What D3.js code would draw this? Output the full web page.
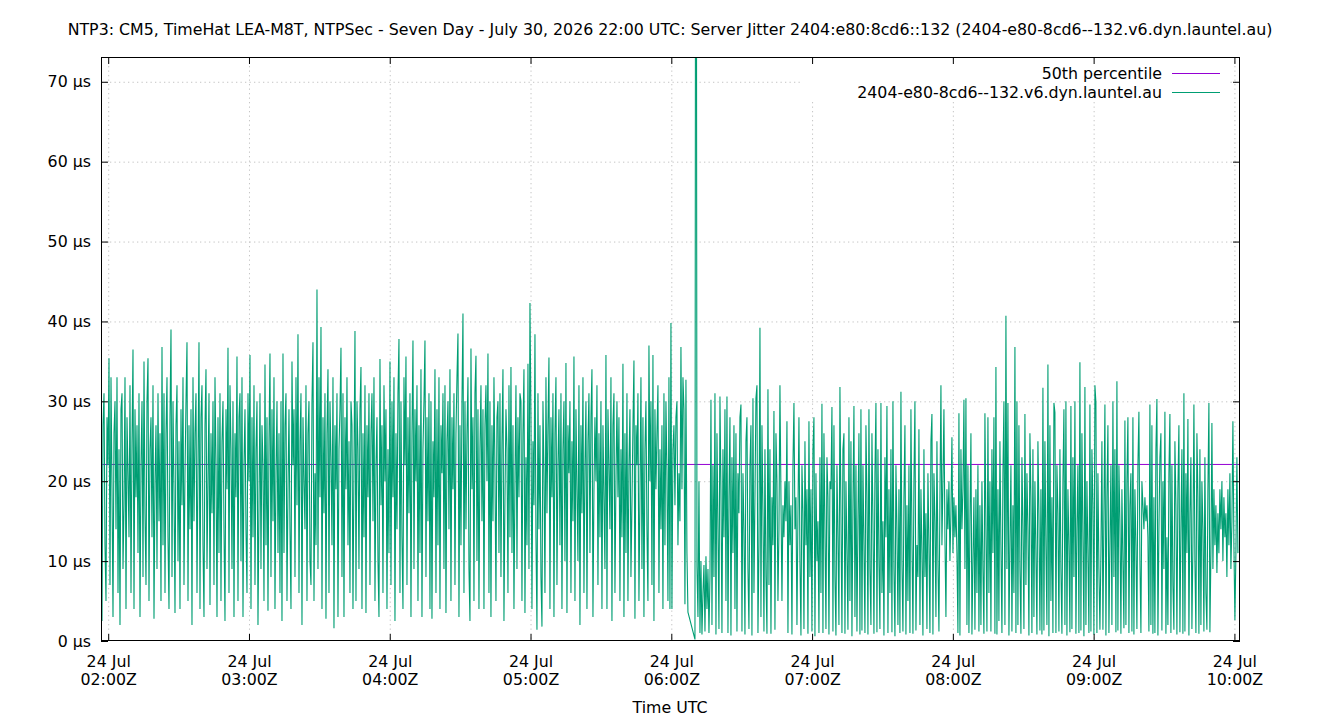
<!doctype html>
<html lang="en">
<head>
<meta charset="utf-8">
<title>NTP3 Server Jitter</title>
<style>
  body { margin: 0; background: #fff; }
  svg { display: block; font-family: "DejaVu Sans", sans-serif; }
</style>
</head>
<body>
<script src="https://cdn.jsdelivr.net/npm/d3@7/dist/d3.min.js"></script>
<svg width="1340" height="720"></svg>
<script>
// chart texts
const titleText = "NTP3: CM5, TimeHat LEA-M8T, NTPSec - Seven Day - July 30, 2026 22:00 UTC: Server Jitter 2404:e80:8cd6::132 (2404-e80-8cd6--132.v6.dyn.launtel.au)";
const seriesNames = ["50th percentile", "2404-e80-8cd6--132.v6.dyn.launtel.au"];
const xLabel = "Time UTC";

// sampling (seconds between points) and the two runs of samples, split by the outage
const sampleSeconds = 25.57;
const startBefore = "2026-07-24T01:56:56Z";
const jitterBefore = [
  30,2.5,27,31,12,5,28,22,35.4,7,33,19,3,26,30,14,33,6,24,2,29,31,9,17,33,4,28,21,13,32,
  6,25,36.5,4,29,18,27,11,31,3,22,30,8,35,16,7,30,35.4,5,24,28,13,32,2.8,20,27,9,31,15,26,
  5,36.8,12,31,6,26,33,13,4,28,39,8,30,19,3.5,27,32,10,25,4,29,17,33,7,21,30,37.4,5,27,14,
  29,2,33,15,26,31,6,22,37.4,4,28,32,12,3,27,34,9,20,31,4.5,26,16,30,7,33,22,3,28,11,31,
  5,25,30,14,2.5,29,19,36.7,6,32,24,9,30,3,26,18,35.6,5,28,31,10,33,3,22,29,14,6,31,20,35.8,
  4,28,13,32,7,24,30,2,17,31,9,27,22,5,34.6,12,28,3.8,25,36,8,29,15,33,4,21,30,11,26,6,
  30,2.5,36,11,27,31,5,19,29,14,4,35,22,29,8,33,17,38.4,6,25,31,2,28,20,14,32,5,26,30,10,
  7,30,37.4,5,21,12,44,9,33,18,39.3,4,28,16,31,2.8,26,34,6,30,23,12,33,1.6,27,19,31,3,24,29,
  36.7,8,31,3,28,19,33,12,25,6,30,27,4,22,38.8,5,30,24,9,29,34.3,4,26,13,32,3.5,27,18,31,7,
  26,31,15,33,5,22,28,10,3,35.3,17,27,6,32,20,29,4,24,11,35,7,30,18,33,2.5,26,14,31,37.8,6,
  30,13,4,33,22,35.6,7,28,16,31,3,26,37.6,9,29,20,32,5,27,11,34,3,24,30,37.6,8,28,15,31,4,
  30,2.8,25,18,34,6,29,12,33,4,27,21,31,9,32,3.5,25,30,14,34,5,28,19,31,7,26,33,38.5,3,27,
  12,30,41,6,30,14,26,33,9,2.5,36.6,19,28,5,31,35.7,10,29,4,24,32,15,29,4,27,32,20,36,6,30,
  3,27,15,33,21,5,28,30,11,31,8,25,34,2.5,18,29,24,6,32,13,34.3,11,27,4,20,32,9,28,18,31,
  30,5,26,34,3.5,23,12,34.7,9,42.3,28,4,25,17,38.4,13,1.4,31,14,27,8,1.8,30,21,6,33,16,27,35.5,4,
  28,18,31,3,26,33,7,22,29,12,31,4,24,30,10,34.8,3.5,27,21,30,6,25,15,35.6,5,29,19,10,32,2,
  27,16,33,6,22,30,4,25,31,11,28,34,3,19,28,20,32,7,26,13,30,4,27,18,9,35.8,4,29,22,14,
  33,2.5,27,31,6,20,30,18,28,5,24,13,34.7,3,26,11,31,5,22,29,8,17,27,35.1,2.8,27,22,31,5,18,
  33,9,28,3,24,30,14,5,37,20,30,7,35.8,2.5,29,19,26,32,6,24,14,27,4,31,12,30,21,5,33,4,
  39.8,4,24,27,17,28,30,12,21,15,36.8,19,33,29,4.6,32.7,11,3.6
];
const startAfter = "2026-07-24T06:10:05Z";
const jitterAfter = [
  0.2,160,9.4,3,20,1,10,0.8,6,9.5,1.2,10.6,4,9,1,8,
  30.2,2,22,8,31,0.8,26,14,1.5,30.6,19,1,24,13,29,5,30.6,1,18,28,0.7,23,11,27,4,26,1.2,21,16,28,
  29.6,1.2,21,14,0.8,25,28,9,1.5,22,27,0.7,30.4,6,18,30.4,32,1,12,39.2,3,27,16,1.2,24,8,0.9,31.5,7,24,
  0.9,18,12,28.8,1.4,26,20,5,14,32,18,5,17,13,20,15,27.5,1,20,12,17,0.8,22,29.8,14,18,2,16,28,10,
  0.7,22,16,1.5,25,12,19,0.9,27.5,8,19,1.2,24,28,0.6,21,10,15,1,23,6,29.7,1,26,14,1.5,23,18,0.8,20,
  19,29.3,1.2,27,8,0.7,22,13,2,31.8,16,1,24,26,0.9,20,11,1.4,28,5,25,0.6,17,29.4,3,22,1.2,15,26,0.8,
  29,1.3,22,12,1,27,18,0.8,29,9,2,26,15,0.9,21,29.8,1.1,24,10,1.5,29.8,6,15,0.7,23,13,29.4,1,19,6,
  24,1.1,30,9,0.6,22,14,2,19,1,31.2,10,1.2,18,27,0.8,17,5,22,1,29,13,0.9,20,30,1.3,12,8,26.5,2,
  19,11,0.7,24,8,16,1.5,21,12,1,25,28.4,0.8,21,15,3,25,10,1.2,18,32,12,20,29,13,3,19,14,20,10,
  16,25.5,11,18,13,17,11,1,28.5,0.7,24,14,19,30.2,9,30.4,2,22,1,15,26,0.8,10,18,1.4,19,6,22,1.2,17,
  2,20,9,0.9,28.5,14,1.2,28,6,20,1.2,24,11,28,0.9,34.3,0.8,19,2.5,25,12,1,21,30,2,40.7,9,29.8,0.7,12,
  22,1.2,17,6,36.8,1,30,2,27,9,0.9,23,14,1.5,28.4,7,21,14,0.7,26,18,1,24,3,20,11,0.8,25,16,1.3,
  19,0.8,31.7,1.3,25,12,2,34.6,0.6,27,5,18,1,29.8,28.6,1,22,16,1.2,24,9,0.9,20,29,2,30,0.7,19,12,1.1,
  29.4,1.5,23,8,30,0.9,14,22,1,34.9,1.3,26,13,0.6,31.8,2,20,11,1,29.6,1.2,24,17,0.8,32,29.8,1,21,9,1.4,
  11,25,1.4,16,29.6,0.7,18,27,1,12,22,2,30,8,24,1.1,32.5,1.3,22,15,0.9,19,10,1.6,27.6,2,20,28,1,17,
  21,1.2,28,0.8,19,12,1.5,22,28.7,10,1,20,17,14,18,15,17,13,1.2,29.6,2,27,0.9,18,1,24,30.3,0.7,14,23,
  26,1.3,20,9,28.7,0.9,13,2,21,28.4,1,22,7,1.4,25,17,0.8,19,27,1.1,14,24,0.9,31,1.2,21,11,27.8,0.7,16,
  23,1.5,12,29.6,10,1,26,18,0.9,24,2,20,14,1.2,23,6,1.4,19,29.8,1.1,11,27.3,9,19,12,17,8.5,16,11,19,
  14,20,10,18,13,16,8,19,12,21,9,15,27.5,12,2.6,11,23,11
];
const medianJitter = 22.1;

// axis ticks
const yTicks = [0, 10, 20, 30, 40, 50, 60, 70];
const xTicks = ["2026-07-24T02:00:00Z", "2026-07-24T03:00:00Z", "2026-07-24T04:00:00Z",
  "2026-07-24T05:00:00Z", "2026-07-24T06:00:00Z", "2026-07-24T07:00:00Z",
  "2026-07-24T08:00:00Z", "2026-07-24T09:00:00Z", "2026-07-24T10:00:00Z"];
const xRange = ["2026-07-24T01:56:56Z", "2026-07-24T10:02:23Z"];
const yMax = 73.1;

const purple = "#9400d3", green = "#009e73";
const mLeft = 101, mRight = 1240, mTop = 57, mBottom = 641;
const fontSize = "15.8px";

const toPoints = (start, vals) => vals.map((v, i) =>
  ({ t: new Date(new Date(start).getTime() + i * sampleSeconds * 1000), v }));
const points = toPoints(startBefore, jitterBefore).concat(toPoints(startAfter, jitterAfter));

const x = d3.scaleUtc().domain(xRange.map(d => new Date(d))).range([mLeft, mRight]);
const y = d3.scaleLinear().domain([0, yMax]).range([mBottom, mTop]);
const tickDates = xTicks.map(d => new Date(d));

const svg = d3.select("svg");

svg.append("defs").append("clipPath").attr("id", "plot")
  .append("rect").attr("x", mLeft).attr("y", mTop)
  .attr("width", mRight - mLeft).attr("height", mBottom - mTop);

// grid
const grid = svg.append("g").attr("stroke", "#c4c4c4").attr("stroke-dasharray", "1.3,3.2");
grid.selectAll(".gy").data(yTicks.filter(d => d > 0)).enter().append("line")
  .attr("x1", mLeft).attr("x2", mRight).attr("y1", d => y(d) + 0.5).attr("y2", d => y(d) + 0.5);
grid.selectAll(".gx").data(tickDates).enter().append("line")
  .attr("y1", mTop).attr("y2", mBottom).attr("x1", d => x(d) + 0.5).attr("x2", d => x(d) + 0.5);

// legend background hides grid
svg.append("rect").attr("x", 803).attr("y", 60).attr("width", 425).attr("height", 42).attr("fill", "#fff");

const plot = svg.append("g").attr("clip-path", "url(#plot)");
plot.append("line").attr("x1", mLeft).attr("x2", mRight)
  .attr("y1", y(medianJitter)).attr("y2", y(medianJitter))
  .attr("stroke", purple).attr("stroke-width", 1);

plot.append("path").datum(points)
  .attr("fill", "none").attr("stroke", green).attr("stroke-width", 1.1)
  .attr("d", d3.line().x(d => x(d.t)).y(d => y(d.v)));

// axes, ticks pointing inward on all sides
const fmtDay = d3.utcFormat("%d %b"), fmtHour = d3.utcFormat("%H:%MZ");
svg.append("g").attr("transform", `translate(${mLeft},0)`)
  .call(d3.axisLeft(y).tickValues(yTicks).tickSize(-7).tickSizeOuter(0).tickPadding(10)
    .tickFormat(d => d + " \u00b5s"))
  .call(g => g.select(".domain").remove());
svg.append("g").attr("transform", `translate(${mRight},0)`)
  .call(d3.axisRight(y).tickValues(yTicks).tickSize(-7).tickSizeOuter(0).tickFormat(""))
  .call(g => g.select(".domain").remove());
svg.append("g").attr("transform", `translate(0,${mTop})`)
  .call(d3.axisTop(x).tickValues(tickDates).tickSize(-7).tickSizeOuter(0).tickFormat(""))
  .call(g => g.select(".domain").remove());
const xAxis = svg.append("g").attr("transform", `translate(0,${mBottom})`)
  .call(d3.axisBottom(x).tickValues(tickDates).tickSize(-7).tickSizeOuter(0).tickFormat(""))
  .call(g => g.select(".domain").remove());
xAxis.selectAll(".tick").append("text").attr("fill", "#000").attr("text-anchor", "middle")
  .each(function(d) {
    const t = d3.select(this);
    t.append("tspan").attr("x", 0).attr("y", 20).attr("dy", "0.35em").text(fmtDay(d));
    t.append("tspan").attr("x", 0).attr("y", 38).attr("dy", "0.35em").text(fmtHour(d));
  });
svg.selectAll(".tick text").attr("font-size", fontSize).attr("font-family", "DejaVu Sans, sans-serif");
svg.selectAll(".tick line").attr("stroke", "#000");

svg.append("rect").attr("x", mLeft + 0.5).attr("y", mTop + 0.5)
  .attr("width", mRight - mLeft - 1).attr("height", mBottom - mTop - 1)
  .attr("fill", "none").attr("stroke", "#000").attr("stroke-width", 1);

// legend
const legend = svg.append("g").attr("font-size", fontSize);
[purple, green].forEach((c, i) => {
  const ly = 73.5 + i * 19;
  legend.append("text").attr("x", 1162).attr("y", ly).attr("dy", "0.35em")
    .attr("text-anchor", "end").text(seriesNames[i]);
  legend.append("line").attr("x1", 1172).attr("x2", 1220).attr("y1", ly).attr("y2", ly)
    .attr("stroke", c).attr("stroke-width", 1);
});

svg.append("text").attr("x", 670).attr("y", 29).attr("dy", "0.35em")
  .attr("text-anchor", "middle").attr("font-size", fontSize).text(titleText);
svg.append("text").attr("x", 670).attr("y", 707).attr("dy", "0.35em")
  .attr("text-anchor", "middle").attr("font-size", fontSize).text(xLabel);
</script>
</body>
</html>
